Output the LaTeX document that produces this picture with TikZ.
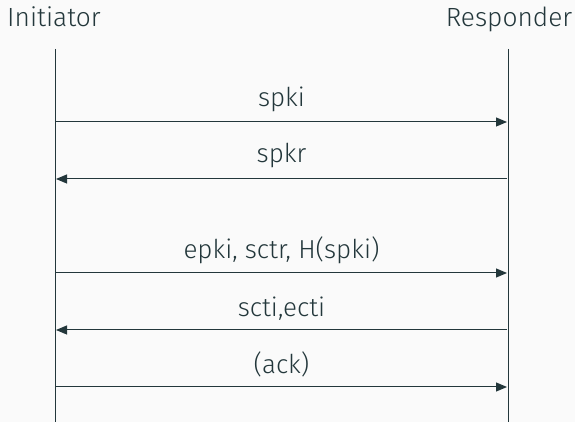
\documentclass[tikz,border=0pt]{standalone}
\usepackage{fontspec}
\setmainfont{Fira Sans Light}
\usetikzlibrary{arrows.meta}
\definecolor{mDark}{HTML}{23373B}
\definecolor{mBg}{HTML}{FAFAFA}
\tikzset{
  party/.style={anchor=base, text=mDark, font=\fontsize{26.3}{30}\selectfont, inner sep=0pt},
  lifeline/.style={draw=mDark, line width=1pt},
  msg/.style={draw=mDark, line width=1pt, -{Triangle[length=11pt,width=9pt]}},
  msglabel/.style={anchor=base, text=mDark, font=\fontsize{26}{30}\selectfont, inner sep=0pt}
}
\begin{document}
\begin{tikzpicture}[x=1pt,y=1pt]
\fill[mBg] (0,0) rectangle (575,422);
\useasboundingbox (0,0) rectangle (575,422);
\node[party] (ini) at (54,395.5) {Initiator};
\node[party] (res) at (509,395.5) {Responder};
\coordinate (it) at (55,373);
\coordinate (ib) at (55,0);
\coordinate (rt) at (508,373);
\coordinate (rb) at (508,0);
\draw[lifeline] (it) -- (ib);
\draw[lifeline] (rt) -- (rb);
% messages
\coordinate (a1) at (56,300); \coordinate (b1) at (507,300);
\coordinate (a2) at (56,243); \coordinate (b2) at (507,243);
\coordinate (a3) at (56,149); \coordinate (b3) at (507,149);
\coordinate (a4) at (56,92);  \coordinate (b4) at (507,92);
\coordinate (a5) at (56,35);  \coordinate (b5) at (507,35);
\draw[msg] (a1) -- (b1);
\draw[msg] (b2) -- (a2);
\draw[msg] (a3) -- (b3);
\draw[msg] (b4) -- (a4);
\draw[msg] (a5) -- (b5);
\node[msglabel] (l1) at (281.5,315) {spki};
\node[msglabel] (l2) at (281.5,259) {spkr};
\node[msglabel] (l3) at (281.5,163) {epki, sctr, H(spki)};
\node[msglabel] (l4) at (281.5,105) {scti,ecti};
\node[msglabel] (l5) at (281.5,48) {(ack)};
\end{tikzpicture}
\end{document}
